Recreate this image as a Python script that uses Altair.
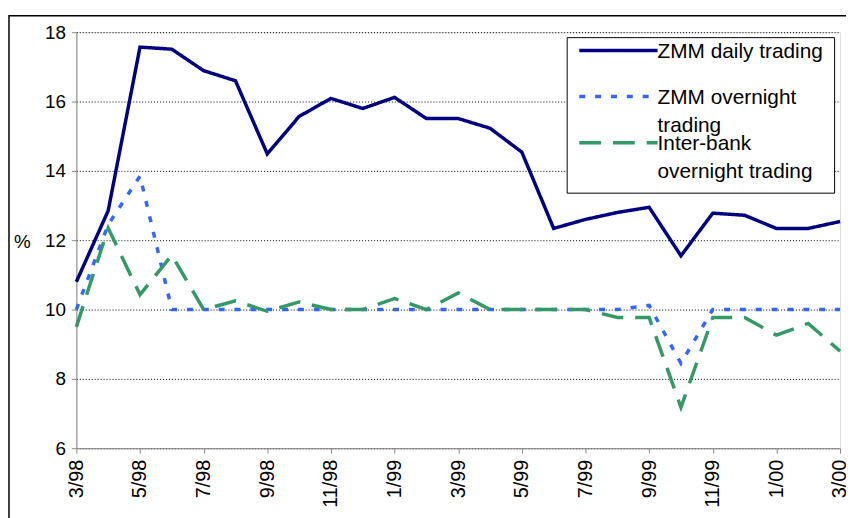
import altair as alt
import pandas as pd

months = ["3/98", "4/98", "5/98", "6/98", "7/98", "8/98", "9/98", "10/98", "11/98",
          "12/98", "1/99", "2/99", "3/99", "4/99", "5/99", "6/99", "7/99", "8/99",
          "9/99", "10/99", "11/99", "12/99", "1/00", "2/00", "3/00"]
daily = [10.8, 12.85, 17.57, 17.51, 16.89, 16.6, 14.49, 15.57, 16.09, 15.8, 16.12,
         15.51, 15.51, 15.23, 14.54, 12.34, 12.6, 12.8, 12.95, 11.55, 12.78, 12.72,
         12.34, 12.34, 12.54]
overnight = [10.0, 12.45, 13.85, 10.0, 10.0, 10.0, 10.0, 10.0, 10.0, 10.0, 10.0,
             10.0, 10.0, 10.0, 10.0, 10.0, 10.0, 10.0, 10.12, 8.45, 10.0, 10.0,
             10.0, 10.0, 10.0]
interbank = [9.5, 12.35, 10.43, 11.57, 10.0, 10.25, 9.95, 10.22, 10.0, 10.0, 10.32,
             10.0, 10.48, 10.0, 10.0, 10.0, 10.0, 9.77, 9.77, 7.18, 9.77, 9.77,
             9.26, 9.6, 8.8]
series_names = ["ZMM daily trading", "ZMM overnight trading", "Inter-bank overnight trading"]
colors = ["#000080", "#3366FF", "#339966"]
dashes = [[1, 0], [6, 10], [22, 12]]
tick_months = months[::2]
y_ticks = [6, 8, 10, 12, 14, 16, 18]

rows = []
for name, vals in zip(series_names, [daily, overnight, interbank]):
    for m, v in zip(months, vals):
        rows.append({"month": m, "value": v, "series": name})
df = pd.DataFrame(rows)

FONT = "Liberation Sans"

label_expr = ("datum.label == 'ZMM daily trading' ? ['ZMM daily trading', ' '] : "
              "datum.label == 'ZMM overnight trading' ? ['ZMM overnight', 'trading'] : "
              "['Inter-bank', 'overnight trading']")

legend = alt.Legend(
    title=None, orient="none", legendX=495, legendY=5,
    symbolType="M-39.5,-7.5H39.5", symbolSize=4, symbolStrokeWidth=3.5,
    symbolOffset=31.25,
    labelExpr=label_expr, labelBaseline="alphabetic", labelFont=FONT, labelFontSize=21,
    labelColor="black", labelLimit=400, labelOffset=29, padding=10.5, rowPadding=-3.5,
    strokeColor="black", fillColor="white",
)

lines = alt.Chart(df).mark_line(strokeWidth=3.5, strokeCap="butt").encode(
    x=alt.X("month:O",
            scale=alt.Scale(type="point", domain=months, padding=0),
            axis=alt.Axis(values=tick_months, labelAngle=-90, title=None,
                          labelFontSize=20, labelPadding=6, grid=False)),
    y=alt.Y("value:Q",
            scale=alt.Scale(domain=[6, 18], nice=False, zero=False),
            axis=alt.Axis(values=y_ticks, title="%", titleAngle=0, titleX=-55,
                          titleY=211, titleAlign="center", titleBaseline="middle",
                          titleFontSize=19, titleFontWeight="normal", titleFont=FONT,
                          labelFontSize=19, labelPadding=6, grid=True,
                          gridColor="black", gridDash=[1, 2], gridWidth=1)),
    color=alt.Color("series:N", scale=alt.Scale(domain=series_names, range=colors),
                    legend=legend),
    strokeDash=alt.StrokeDash("series:N", scale=alt.Scale(domain=series_names, range=dashes),
                              legend=legend),
)

frame = alt.Chart(alt.Data(values=[{}])).mark_rect(
    fillOpacity=0, stroke="black", strokeWidth=1.5
).encode(
    x=alt.value(-68), x2=alt.value(800), y=alt.value(-16.5), y2=alt.value(520)
)

chart = alt.layer(frame, lines).properties(
    width=771, height=420,
    autosize=alt.AutoSizeParams(type="none"),
    padding={"left": 69, "top": 22, "right": 6, "bottom": 68},
    background="white",
).configure_view(
    stroke="black", strokeWidth=1
).configure_axis(
    domainColor="black", domainWidth=1.5, tickColor="black", tickWidth=1.5,
    tickSize=7, labelColor="black", labelFont=FONT, titleColor="black",
).configure_legend(
    strokeWidth=1.5
).configure(
    style={"guide-label": {"lineHeight": 28}}
)

chart.save("out.html", embed_options={"renderer": "svg", "actions": False})
